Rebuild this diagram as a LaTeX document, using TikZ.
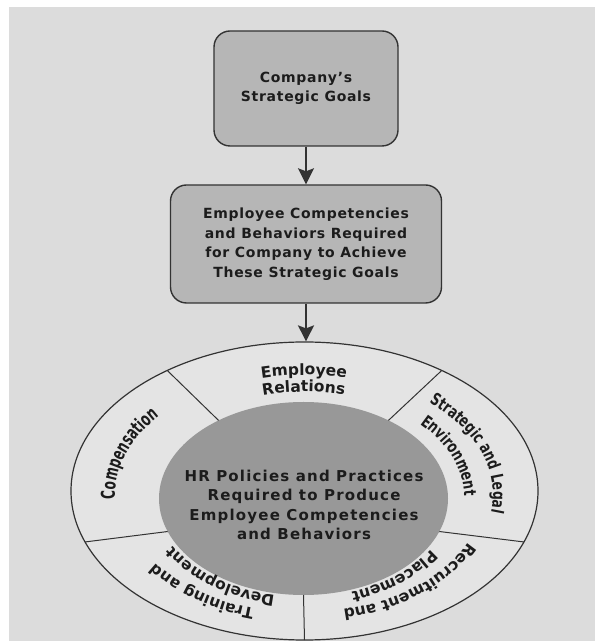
\documentclass[tikz,border=0pt]{standalone}
\usepackage{fontspec}
\setmainfont{DejaVu Sans}
\newfontfamily\hrCondFamily{DejaVu Sans Bold}[FakeStretch=0.72]
\newfontfamily\hrNarrowFamily{DejaVu Sans Bold}[FakeStretch=0.64]
\usetikzlibrary{shapes.geometric,arrows.meta,decorations.text,calc}

\definecolor{paper}{HTML}{DCDCDC}
\definecolor{boxgrey}{HTML}{B6B6B6}
\definecolor{ringgrey}{HTML}{E4E4E4}
\definecolor{coregrey}{HTML}{989898}
\definecolor{edge}{HTML}{333333}
\definecolor{ink}{HTML}{1C1C1C}

% fonts
\newcommand\hrBoxFont{\bfseries\fontsize{14}{19.5}\selectfont\addfontfeatures{LetterSpace=5}}
\newcommand\hrCoreFont{\bfseries\fontsize{15}{19.6}\selectfont\addfontfeatures{LetterSpace=8}}
\newcommand\hrRing{\color{ink}\bfseries\fontsize{15.5}{18}\selectfont}
\newcommand\hrCond{\color{ink}\hrCondFamily\fontsize{17}{20}\selectfont}
\newcommand\hrNarrow{\color{ink}\hrNarrowFamily\fontsize{19}{22}\selectfont}

% text along an elliptic arc of the ring, between the core (fraction 0)
% and the outer rim (fraction 1); arguments: fraction, start, end, font, text
\newcommand\hrArcLabel[5]{%
  \pgfmathsetmacro\hrRa{144.5+89*#1}%
  \pgfmathsetmacro\hrRb{96.5+52.5*#1}%
  \pgfmathsetmacro\hrSx{\hrRa*cos(#2)}%
  \pgfmathsetmacro\hrSy{\hrRb*sin(#2)}%
  \path[decorate, decoration={text along path, text align=center,
        text={|#4|#5}}]
    ($(core.center)!#1!(ring.center)$) ++(\hrSx,\hrSy)
    arc[start angle=#2, end angle=#3, x radius=\hrRa, y radius=\hrRb];%
}

\begin{document}
\begin{tikzpicture}[x=1pt,y=1pt,
  goalbox/.style={draw=edge, line width=1.4pt, fill=boxgrey,
    rounded corners=16pt, align=center, inner sep=0pt,
    text=ink, font=\hrBoxFont},
  flow/.style={draw=edge, line width=2pt,
    -{Stealth[length=16pt,width=16pt,inset=3pt]}},
  spoke/.style={draw=edge, line width=1pt},
]
\useasboundingbox (0,0) rectangle (595,642);
\fill[paper] (9,1) rectangle (595,635);

% the two goal boxes
\node[goalbox, minimum width=184pt, minimum height=115pt] (goals)
  at (306,553.5) {Company’s\\Strategic Goals};
\node[goalbox, minimum width=271pt, minimum height=118pt] (needs)
  at (306,398) {Employee Competencies\\and Behaviors Required\\for Company to Achieve\\These Strategic Goals};

% the ring of HR practices and its core
\node[ellipse, draw=edge, line width=1.2pt, fill=ringgrey, inner sep=0pt,
  minimum width=467pt, minimum height=298pt] (ring) at (304.5,151) {};
\node[ellipse, fill=coregrey, inner sep=0pt,
  minimum width=289pt, minimum height=193pt] (core) at (303.5,143.5) {};
\node[align=center, text=ink, font=\hrCoreFont] (coretext) at (304,137)
  {HR Policies and Practices\\Required to Produce\\Employee Competencies\\and Behaviors};

% spokes dividing the ring into five sectors
\foreach \t in {54,126,200,270,340}{
  \path (core.center) ++(\t:144.5 and 96.5) coordinate (in\t);
  \path (ring.center) ++(\t:233.5 and 149) coordinate (out\t);
  \draw[spoke] (in\t) -- (out\t);
}

% arrows
\draw[flow] (goals.south) -- (needs.north);
\draw[flow] (needs.south) -- (needs.south |- ring.north);

% sector labels, written clockwise with letter tops facing outwards
\hrArcLabel{0.45}{126}{54}{\hrRing}{Employee}
\hrArcLabel{0.17}{126}{54}{\hrRing}{Relations}
\hrArcLabel{0.5}{56}{-18}{\hrCond}{Strategic and Legal}
\hrArcLabel{0.18}{57}{-17}{\hrCond}{Environment}
\hrArcLabel{0.39}{-14}{-84}{\hrRing}{Recruitment and}
\hrArcLabel{0.05}{-14}{-84}{\hrRing}{Placement}
\hrArcLabel{0.41}{-92}{-164}{\hrRing}{Training and}
\hrArcLabel{0.05}{-92}{-164}{\hrRing}{Development}
\hrArcLabel{0.5}{200}{126}{\hrNarrow}{Compensation}
\end{tikzpicture}
\end{document}
